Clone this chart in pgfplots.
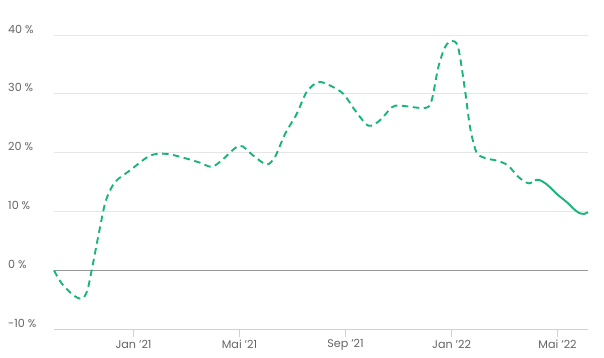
\documentclass[border=0pt]{standalone}
\usepackage{fontspec}
\setmainfont{Poppins}
\usepackage{pgfplots}
\pgfplotsset{compat=1.18}
\definecolor{linegreen}{RGB}{24,180,122}
\definecolor{labelgray}{RGB}{100,100,100}
\definecolor{gridgray}{RGB}{230,230,230}
\definecolor{zerogray}{RGB}{150,150,150}
\definecolor{axisblue}{RGB}{200,210,225}
\begin{document}
\begin{tikzpicture}
\useasboundingbox (0,0) rectangle (604bp,358bp);
\begin{axis}[
  at={(54bp,28.7bp)}, anchor=south west,
  scale only axis, width=534bp, height=294.3bp,
  xmin=0, xmax=20.15, ymin=-10, ymax=40,
  clip=false,
  axis x line*=bottom, axis y line*=left,
  x axis line style={draw=axisblue, line width=0.8bp},
  y axis line style={draw=none},
  xtick={3,7,11,15,19},
  xticklabels={Jan ’21, Mai ’21, Sep ’21, Jan ’22, Mai ’22},
  ytick={-10,0,10,20,30,40},
  yticklabels={-10 \%, 0 \%, 10 \%, 20 \%, 30 \%, 40 \%},
  xtick align=outside,
  major tick length=8bp,
  xtick style={draw=axisblue, line width=0.8bp},
  ytick style={draw=none},
  ymajorgrids, grid style={draw=gridgray, line width=0.8bp},
  tick label style={font=\fontsize{11.2}{13}\selectfont, text=labelgray},
  xticklabel style={anchor=center, inner sep=0pt, yshift=-7.5bp},
  yticklabel style={anchor=west, inner sep=0pt, xshift=-46bp, yshift=6bp},
]
\addplot[draw=zerogray, line width=0.8bp] coordinates {(0,0) (20.15,0)};
\addplot[linegreen, line width=1.9bp, smooth, tension=0.5, dash pattern=on 6.5bp off 4.5bp] coordinates {
(0,0) (0.29,-2.2) (0.73,-4.2) (1.05,-4.8) (1.25,-3.5) (1.42,0) (1.74,7.4) (1.96,11.9)
(2.3,15) (2.87,17) (3.62,19.5) (4.25,19.8) (5.0,19) (5.51,18.3) (5.95,17.6) (6.33,18.7)
(7.0,21.2) (7.52,19.5) (8.02,18) (8.34,19.3) (8.72,23.2) (9.16,26.6) (9.53,30.3) (9.97,32)
(10.42,31.4) (10.92,30) (11.36,27.2) (11.86,24.6) (12.3,25.5) (12.74,27.7) (13.06,28)
(14.0,27.6) (14.25,28.9) (14.5,34.5) (14.75,37.9) (15.0,39) (15.25,37.9) (15.51,30.6)
(15.7,24.3) (15.94,20.1) (16.26,19.1) (16.76,18.6) (17.14,17.8) (17.52,15.9) (17.9,14.8)
(18.15,15.3)
};
\addplot[linegreen, line width=1.9bp, smooth, tension=0.5] coordinates {
(18.15,15.3) (18.3,15.4) (18.6,14.6) (18.97,13) (19.35,11.6) (19.6,10.5) (19.8,9.8) (20.0,9.6) (20.15,9.9)
};
\end{axis}
\end{tikzpicture}
\end{document}
